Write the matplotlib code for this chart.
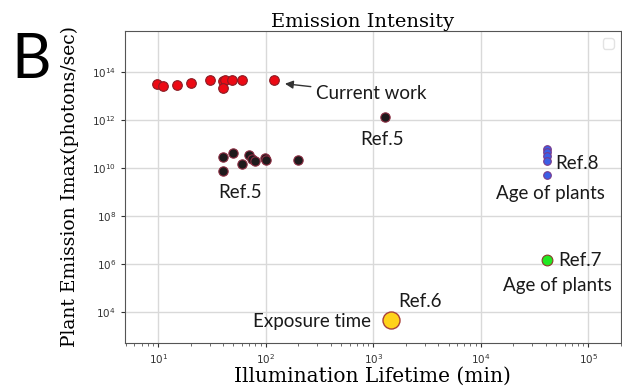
import matplotlib
matplotlib.use("Agg")
import matplotlib.pyplot as plt

# Current work (red)
cur_x = [9.7, 11, 15, 20, 30, 40, 42, 40, 48, 60, 120]
cur_y = [3.2e13, 2.6e13, 2.8e13, 3.5e13, 4.9e13, 4.1e13, 4.8e13, 2.1e13, 4.8e13, 4.8e13, 4.9e13]

# Ref.5 (black)
ref5_x = [40, 40, 50, 60, 70, 75, 80, 99, 100, 200, 1270]
ref5_y = [2.96e10, 7.7e9, 4.1e10, 1.5e10, 3.5e10, 2.4e10, 1.96e10, 2.6e10, 2.1e10, 2.2e10, 1.4e12]

# Ref.8 (blue)
ref8_x = [4.1e4, 4.1e4, 4.1e4, 4.1e4, 4.1e4]
ref8_y = [6.2e10, 4.5e10, 3.2e10, 2.0e10, 5.1e9]

# Ref.7 (green)
ref7_x = [4.1e4]
ref7_y = [1.45e6]

# Ref.6 (yellow)
ref6_x = [1460]
ref6_y = [4.5e3]

fig = plt.figure(figsize=(6.22, 3.92), dpi=100)
ax = fig.add_axes([0.201, 0.125, 0.797, 0.796])
ax.set_xscale('log')
ax.set_yscale('log')
ax.set_xlim(4.9, 2.0e5)
ax.set_ylim(10**2.70, 10**15.72)

ax.grid(True, which='major', color='#d9d9d9', linewidth=1.0)
ax.set_axisbelow(True)

ax.scatter(cur_x, cur_y, s=48, c='#ec0a14', edgecolors='#8a1c24', linewidths=0.8, zorder=3)
ax.scatter(ref5_x, ref5_y, s=45, c='#1e1a1c', edgecolors='#8a2b40', linewidths=0.8, zorder=3)
ax.scatter(ref8_x, ref8_y, s=30, c='#3b5ee6', edgecolors='#7a3a8a', linewidths=0.8, zorder=3)
ax.scatter(ref7_x, ref7_y, s=60, c='#22e822', edgecolors='#8a3a2a', linewidths=0.8, zorder=3)
ax.scatter(ref6_x, ref6_y, s=150, c='#ffd21a', edgecolors='#a8403a', linewidths=1.0, zorder=3)

afont = dict(family=['Lato', 'DejaVu Sans'], fontsize=13.5, color='#1a1a1a')
ax.annotate('Current work', xy=(142, 3.4e13), xytext=(295, 1.3e13),
            ha='left', va='center',
            arrowprops=dict(arrowstyle='-|>', color='#333333', lw=1.0, mutation_scale=12),
            **afont)
ax.text(1200, 1.6e11, 'Ref.5', ha='center', va='center', **afont)
ax.text(58, 9.5e8, 'Ref.5', ha='center', va='center', **afont)
ax.text(4.9e4, 1.5e10, 'Ref.8', ha='left', va='center', **afont)
ax.text(4.4e4, 9e8, 'Age of plants', ha='center', va='center', **afont)
ax.text(5.2e4, 1.4e6, 'Ref.7', ha='left', va='center', **afont)
ax.text(5.2e4, 1.2e5, 'Age of plants', ha='center', va='center', **afont)
ax.text(2700, 2.8e4, 'Ref.6', ha='center', va='center', **afont)
ax.text(955, 3.8e3, 'Exposure time', ha='right', va='center', **afont)

ax.set_title('Emission Intensity', family='DejaVu Serif', fontsize=14, pad=3, x=0.48)
ax.set_xlabel('Illumination Lifetime (min)', family='DejaVu Serif', fontsize=14.5, labelpad=1)
ax.set_ylabel('Plant Emission Imax(photons/sec)', family='DejaVu Serif', fontsize=13.5, labelpad=9)

ax.set_yticks([1e4, 1e6, 1e8, 1e10, 1e12, 1e14])
ax.tick_params(axis='both', which='major', labelsize=7.5, colors='#333333', length=3)
ax.tick_params(axis='y', which='minor', left=False)
ax.tick_params(axis='x', which='minor', length=2, colors='#555555')
for sp in ax.spines.values():
    sp.set_color('#555555')

leg = ax.legend(handles=[], loc='upper right', frameon=True)
leg.get_frame().set_edgecolor('#dddddd')

fig.text(0.018, 0.80, 'B', family=['Lato', 'DejaVu Sans'], fontsize=44, color='black')

fig.savefig('out.png', dpi=100)
